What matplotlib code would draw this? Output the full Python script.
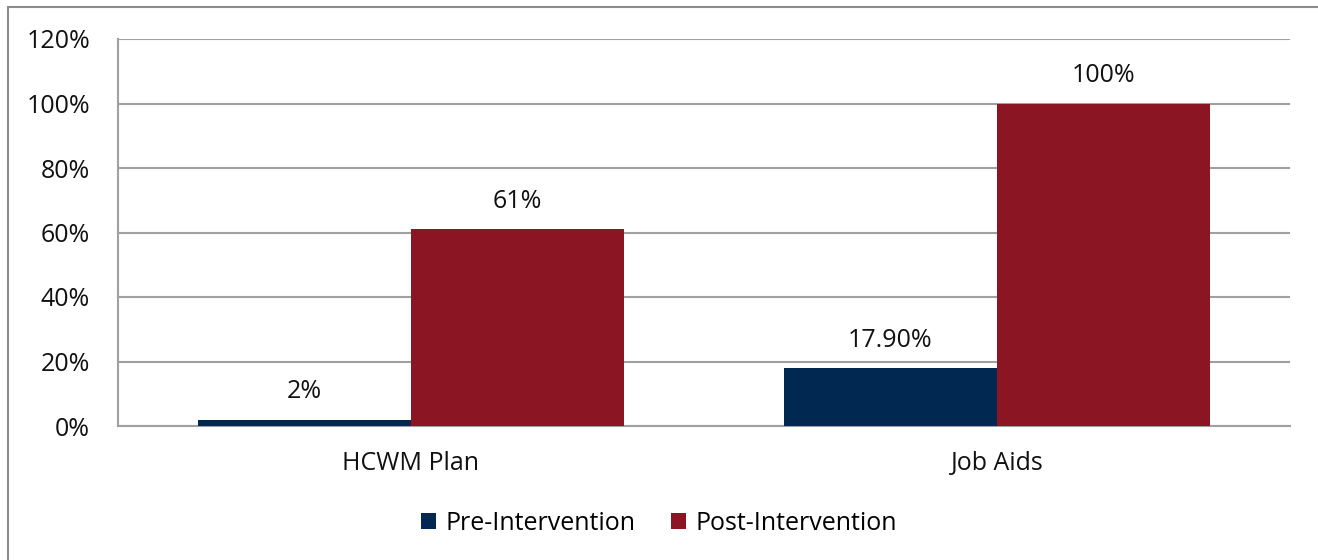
import matplotlib
matplotlib.use("Agg")
import matplotlib.pyplot as plt
from matplotlib.patches import Rectangle
import numpy as np

categories = ["HCWM Plan", "Job Aids"]
pre_values = [2.0, 17.9]
post_values = [61.0, 100.0]
pre_labels = ["2%", "17.90%"]
post_labels = ["61%", "100%"]
series_names = ["Pre-Intervention", "Post-Intervention"]
yticks = [0, 20, 40, 60, 80, 100, 120]

plt.rcParams['font.family'] = ['Open Sans', 'DejaVu Sans']
FS = 18

fig = plt.figure(figsize=(13.18, 5.6), dpi=100)
ax = fig.add_axes([118/1318, 1-426/560, (1290-118)/1318, (426-39)/560])

x = np.arange(len(categories))
w = 0.3635
navy = "#012851"
red = "#8C1524"
b1 = ax.bar(x - w/2, pre_values, w, color=navy, label=series_names[0], zorder=3)
b2 = ax.bar(x + w/2, post_values, w, color=red, label=series_names[1], zorder=3)

for rect, lab in zip(b1, pre_labels):
    ax.annotate(lab, (rect.get_x()+rect.get_width()/2, rect.get_height()),
                xytext=(0, 11), textcoords="offset points", ha="center", va="bottom", fontsize=FS, color="#111111")
for rect, lab in zip(b2, post_labels):
    ax.annotate(lab, (rect.get_x()+rect.get_width()/2, rect.get_height()),
                xytext=(0, 11), textcoords="offset points", ha="center", va="bottom", fontsize=FS, color="#111111")

ax.set_xlim(-0.5, 1.5)
ax.set_ylim(0, 120)
ax.set_yticks(yticks)
ax.set_yticklabels([f"{t}%" for t in yticks], fontsize=FS, color="#111111")
ax.set_xticks(x)
ax.set_xticklabels(categories, fontsize=FS, color="#111111")
ax.tick_params(axis='both', length=0)
ax.tick_params(axis='y', pad=20)
ax.tick_params(axis='x', pad=18)
ax.yaxis.grid(True, color="#a0a0a0", linewidth=1.5, zorder=0)
ax.set_axisbelow(True)
for s in ["top", "right"]:
    ax.spines[s].set_visible(False)
ax.spines["left"].set_color("#a0a0a0")
ax.spines["left"].set_linewidth(1.5)
ax.spines["bottom"].set_color("#a0a0a0")
ax.spines["bottom"].set_linewidth(1.5)

leg = fig.legend(loc="center", bbox_to_anchor=(0.5, 1-523/560), ncol=2, frameon=False,
                 fontsize=FS, handlelength=0.6, handleheight=0.6, handletextpad=0.35, columnspacing=1.45)

fig.patches.append(Rectangle((8/1318, -0.1), 1.2, 1-7/560+0.1, transform=fig.transFigure,
                             fill=False, edgecolor="#8c8c8c", linewidth=1.5))

fig.savefig("out.png", dpi=100, facecolor="white")
